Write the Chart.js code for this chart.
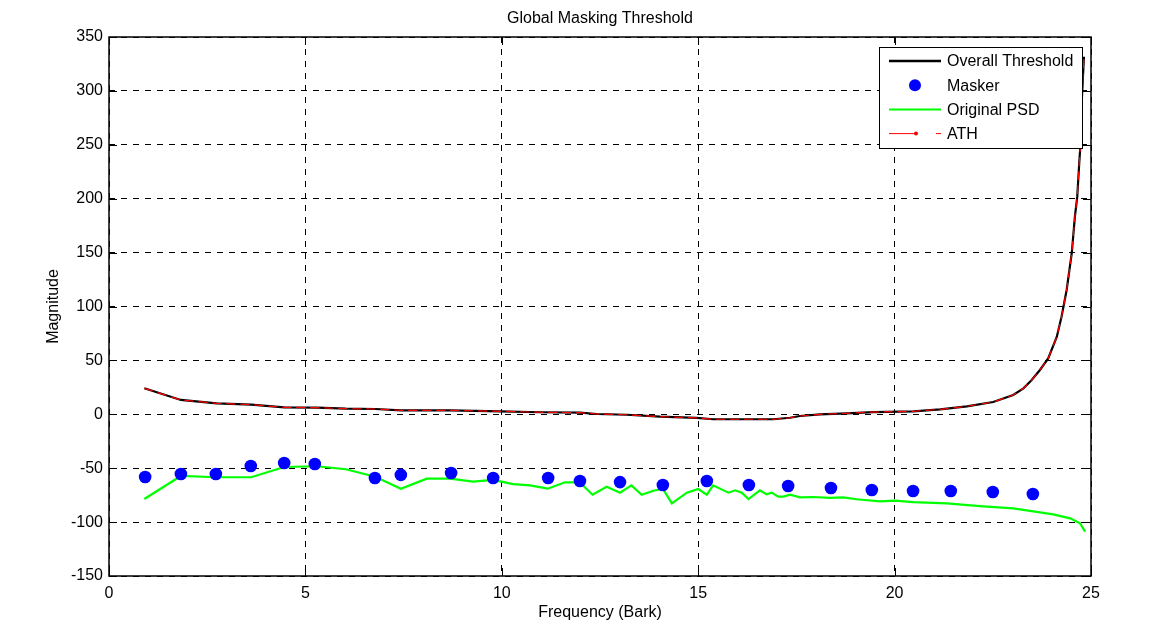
<!DOCTYPE html>
<html>
<head>
<meta charset="utf-8">
<script src="https://cdn.jsdelivr.net/npm/chart.js@4.4.1/dist/chart.umd.min.js"></script>
<style>
  html, body { margin: 0; padding: 0; background: #ffffff; }
  #wrap { width: 1150px; height: 623px; position: relative; }
</style>
</head>
<body>
<div id="wrap"><canvas id="c" width="1150" height="623"></canvas></div>
<script>
// ---- Data ----
const xTicks = [0, 5, 10, 15, 20, 25];
const yTicks = [-150, -100, -50, 0, 50, 100, 150, 200, 250, 300, 350];

// Overall Threshold
const thrFreq = [0.90,1.83,2.74,3.62,4.46,5.29,6.03,6.78,7.43,8.68,9.95,10.97,11.99,12.42,13.18,14.03,14.96,15.38,16.91,17.34,17.59,18.10,18.78,19.46,20.48,21.16,21.84,22.51,23.02,23.28,23.49,23.70,23.91,24.13,24.25,24.38,24.51,24.59,24.65,24.70,24.74,24.77,24.82];
const thrValues = [24.1,13.3,10.2,8.9,6.5,6.1,5.2,4.9,3.7,3.7,2.8,1.9,1.5,0.3,-0.4,-2.2,-3.4,-4.6,-4.6,-3.2,-1.6,0.0,0.9,2.1,2.8,4.6,7.4,11.4,17.9,24.1,31.8,41.1,51.9,72.0,90.5,115.3,149.4,183.3,201.9,232.8,254.5,294.6,331.7];

// ATH (overlaps the threshold in the picture)
const athFreq = [0.90,1.83,2.74,3.62,4.46,5.29,6.03,6.78,7.43,8.68,9.95,10.97,11.99,12.42,13.18,14.03,14.96,15.38,16.91,17.34,17.59,18.10,18.78,19.46,20.48,21.16,21.84,22.51,23.02,23.28,23.49,23.70,23.91,24.13,24.25,24.38,24.51,24.59,24.65,24.70,24.74,24.77,24.82];
const athValues = [24.1,13.3,10.2,8.9,6.5,6.1,5.2,4.9,3.7,3.7,2.8,1.9,1.5,0.3,-0.4,-2.2,-3.4,-4.6,-4.6,-3.2,-1.6,0.0,0.9,2.1,2.8,4.6,7.4,11.4,17.9,24.1,31.8,41.1,51.9,72.0,90.5,115.3,149.4,183.3,201.9,232.8,254.5,294.6,331.7];

// Maskers
const maskFreq = [0.92,1.83,2.72,3.61,4.46,5.24,6.77,7.43,8.71,9.78,11.18,11.99,13.01,14.10,15.22,16.29,17.29,18.38,19.42,20.47,21.43,22.50,23.52];
const maskValues = [-58.2,-55.4,-55.4,-48.0,-45.2,-46.1,-59.1,-56.2,-54.4,-59.1,-59.1,-61.9,-62.9,-65.6,-61.9,-65.6,-66.5,-68.4,-70.2,-71.1,-71.1,-72.1,-73.9];

// Original PSD
const psdFreq = [0.90,1.83,2.74,3.62,4.46,5.29,6.03,6.78,7.43,8.09,8.68,9.27,9.78,10.29,10.72,11.17,11.61,11.98,12.31,12.67,13.01,13.30,13.56,13.86,14.10,14.33,14.71,15.00,15.22,15.38,15.77,15.94,16.11,16.28,16.57,16.74,16.87,17.04,17.17,17.34,17.59,17.93,18.36,18.69,19.03,19.63,20.01,20.48,21.33,22.17,23.02,23.53,24.04,24.47,24.72,24.85];
const psdValues = [-78.6,-57.2,-58.4,-58.4,-48.9,-48.2,-51.0,-57.9,-69.0,-59.7,-59.7,-62.5,-60.9,-64.7,-65.9,-69.0,-63.1,-63.1,-74.6,-67.2,-72.7,-65.9,-74.6,-70.9,-69.0,-82.6,-72.7,-69.3,-74.6,-65.9,-72.7,-70.5,-72.7,-78.6,-70.5,-74.2,-72.7,-76.4,-76.4,-74.6,-77.0,-76.7,-77.6,-77.0,-78.8,-80.7,-80.1,-81.4,-82.6,-85.1,-87.2,-90.0,-92.8,-96.5,-101.1,-108.9];

const labels = ['Overall Threshold', 'Masker', 'Original PSD', 'ATH'];

function pts(xs, ys) { return xs.map((x, i) => ({ x: x, y: ys[i] })); }

const FONT = '"Liberation Sans", Arial, Helvetica, sans-serif';

// Box, inward ticks and legend drawn on the canvas
const framePlugin = {
  id: 'frame',
  afterDraw(chart) {
    const ctx = chart.ctx;
    const a = chart.chartArea;
    const xs = chart.scales.x, ys = chart.scales.y;
    ctx.save();
    ctx.strokeStyle = '#000';
    ctx.lineWidth = 1;
    ctx.setLineDash([]);
    // inward ticks
    const tl = 8;
    ctx.beginPath();
    xTicks.forEach(v => {
      const px = Math.round(xs.getPixelForValue(v)) + 0.5;
      ctx.moveTo(px, a.bottom); ctx.lineTo(px, a.bottom - tl);
      ctx.moveTo(px, a.top); ctx.lineTo(px, a.top + tl);
    });
    yTicks.forEach(v => {
      const py = Math.round(ys.getPixelForValue(v)) + 0.5;
      ctx.moveTo(a.left, py); ctx.lineTo(a.left + tl, py);
      ctx.moveTo(a.right, py); ctx.lineTo(a.right - tl, py);
    });
    ctx.stroke();
    // box
    ctx.lineWidth = 1.5;
    ctx.strokeRect(a.left, a.top, a.right - a.left, a.bottom - a.top);

    // legend
    const bw = 203, bh = 101;
    const bx = a.right - 9 - bw, by = a.top + 10;
    ctx.fillStyle = '#fff';
    ctx.fillRect(bx, by, bw, bh);
    ctx.lineWidth = 1;
    ctx.strokeRect(bx + 0.5, by + 0.5, bw, bh);
    ctx.font = '16px ' + FONT;
    ctx.textBaseline = 'middle';
    ctx.textAlign = 'left';
    const sx0 = bx + 10, sx1 = bx + 62, tx = bx + 68;
    labels.forEach((lab, i) => {
      const ry = by + 14 + i * 24.2;
      if (i === 0) {
        ctx.strokeStyle = '#000'; ctx.lineWidth = 2.5;
        ctx.beginPath(); ctx.moveTo(sx0, ry); ctx.lineTo(sx1, ry); ctx.stroke();
      } else if (i === 1) {
        ctx.fillStyle = '#0000ff';
        ctx.beginPath(); ctx.arc((sx0 + sx1) / 2, ry, 6, 0, Math.PI * 2); ctx.fill();
      } else if (i === 2) {
        ctx.strokeStyle = '#00ff00'; ctx.lineWidth = 2;
        ctx.beginPath(); ctx.moveTo(sx0, ry); ctx.lineTo(sx1, ry); ctx.stroke();
      } else {
        ctx.strokeStyle = '#ff0000'; ctx.lineWidth = 1;
        ctx.beginPath(); ctx.moveTo(sx0, ry); ctx.lineTo(sx0 + 26, ry);
        ctx.moveTo(sx1 - 5, ry); ctx.lineTo(sx1, ry); ctx.stroke();
        ctx.fillStyle = '#ff0000';
        ctx.beginPath(); ctx.arc(sx0 + 27, ry, 2, 0, Math.PI * 2); ctx.fill();
      }
      ctx.fillStyle = '#000';
      ctx.fillText(lab, tx, ry + 1);
    });
    ctx.restore();
  }
};

new Chart(document.getElementById('c'), {
  type: 'scatter',
  data: {
    datasets: [
      { label: labels[1], data: pts(maskFreq, maskValues), showLine: false,
        pointRadius: 6.3, pointHoverRadius: 6.3, pointBackgroundColor: '#0000ff', pointBorderWidth: 0, borderColor: '#0000ff', order: 0 },
      { label: labels[3], data: pts(athFreq, athValues), showLine: true, borderColor: '#ff0000',
        borderWidth: 1.2, borderDash: [9, 5], pointRadius: 0, tension: 0, order: 1 },
      { label: labels[0], data: pts(thrFreq, thrValues), showLine: true, borderColor: '#000000',
        borderWidth: 2.2, pointRadius: 0, tension: 0, order: 2 },
      { label: labels[2], data: pts(psdFreq, psdValues), showLine: true, borderColor: '#00ff00',
        borderWidth: 2.2, pointRadius: 0, tension: 0, order: 3 }
    ]
  },
  options: {
    responsive: false,
    animation: false,
    devicePixelRatio: 1,
    layout: { padding: { left: 40, right: 59, top: 0, bottom: 0 } },
    plugins: {
      legend: { display: false },
      tooltip: { enabled: false },
      title: {
        display: true, text: 'Global Masking Threshold', color: '#000', fullSize: false,
        font: { family: FONT, size: 16, weight: 'normal' },
        padding: { top: 9.4, bottom: 8.4 }
      }
    },
    scales: {
      x: {
        type: 'linear', min: 0, max: 25,
        afterBuildTicks: (s) => { s.ticks = xTicks.map(v => ({ value: v })); },
        afterFit: (s) => { s.height = 47; },
        grid: { color: '#000', lineWidth: 1, drawTicks: false },
        border: { display: false, dash: [6, 6] },
        ticks: { color: '#000', padding: 8, maxRotation: 0, font: { family: FONT, size: 16 } },
        title: { display: true, text: 'Frequency (Bark)', color: '#000', font: { family: FONT, size: 16 }, padding: { top: 0, bottom: 1 } }
      },
      y: {
        type: 'linear', min: -150, max: 350,
        afterBuildTicks: (s) => { s.ticks = yTicks.map(v => ({ value: v })); },
        afterFit: (s) => { s.width = 69; },
        grid: { color: '#000', lineWidth: 1, drawTicks: false },
        border: { display: false, dash: [6, 6] },
        ticks: { color: '#000', padding: 6, font: { family: FONT, size: 16 } },
        title: { display: true, text: 'Magnitude', color: '#000', font: { family: FONT, size: 16 }, padding: { top: 4, bottom: 0 } }
      }
    }
  },
  plugins: [framePlugin]
});
</script>
</body>
</html>
